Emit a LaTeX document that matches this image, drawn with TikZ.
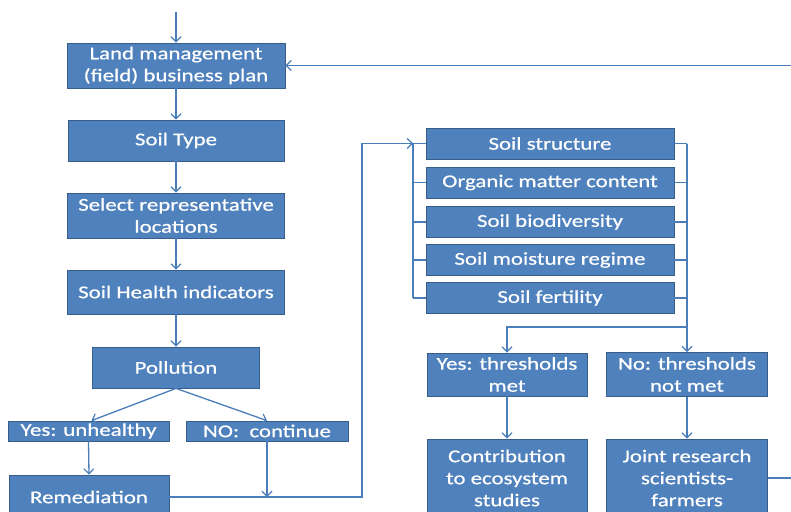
\documentclass[tikz,border=0pt]{standalone}
\usepackage{fontspec}
\setmainfont[FakeStretch=1.27,FakeBold=0.6]{Carlito}
\usetikzlibrary{arrows.meta}
\definecolor{boxfill}{HTML}{4F81BD}
\definecolor{boxline}{HTML}{385D8A}
\definecolor{conn}{HTML}{4A7EBB}
\tikzset{
  box/.style={draw=boxline, line width=0.8pt, fill=boxfill, text=white, align=center,
    inner sep=1pt, font=\fontsize{18}{22}\selectfont},
  conline/.style={draw=conn, line width=1.3pt},
  arr/.style={conline, -{Straight Barb[length=5pt,width=10pt,line width=1.2pt]}},
}
\begin{document}
\begin{tikzpicture}[x=1pt,y=-1pt]
\clip (0,0) rectangle (791,511);
% left column
\node[box, minimum width=218, minimum height=45] (land) at (176,65.5) {Land management\\(field) business plan};
\node[box, minimum width=216, minimum height=41] (soiltype) at (176,140.5) {Soil Type};
\node[box, minimum width=217, minimum height=45] (select) at (176,215.5) {Select representative\\locations};
\node[box, minimum width=217, minimum height=44] (health) at (176,292) {Soil Health indicators};
\node[box, minimum width=167, minimum height=41] (pollution) at (176,367.5) {Pollution};
\node[box, minimum width=161, minimum height=20] (yes) at (88.5,431) {Yes: unhealthy};
\node[box, minimum width=162, minimum height=20] (no) at (267,431) {NO:\ \ continue};
\node[box, minimum width=160, minimum height=44] (remed) at (89,497) {Remediation};
% right column
\node[box, minimum width=248, minimum height=31] (structure) at (550,143.5) {Soil structure};
\node[box, minimum width=248, minimum height=31] (organic) at (550,182.5) {Organic matter content};
\node[box, minimum width=248, minimum height=31] (biodiv) at (550,222) {Soil biodiversity};
\node[box, minimum width=248, minimum height=31] (moisture) at (550,260) {Soil moisture regime};
\node[box, minimum width=248, minimum height=31] (fertility) at (550,298) {Soil fertility};
\node[box, minimum width=160, minimum height=43] (ythr) at (507,374.5) {Yes: thresholds\\met};
\node[box, minimum width=161, minimum height=44] (nthr) at (687,374.5) {No: thresholds\\not met};
\node[box, minimum width=160, minimum height=78] (contrib) at (507,478) {Contribution\\to ecosystem\\studies};
\node[box, minimum width=161, minimum height=78] (joint) at (687,478) {Joint research\\scientists-\\farmers};
% coordinates
\coordinate (top) at (176,12);
\coordinate (lp) at (362,497);
\coordinate (lb) at (413,143.5);
\coordinate (lbb) at (413,298);
\coordinate (rb) at (687,143.5);
\coordinate (br) at (687,327);
\coordinate (fb) at (840,478);
% connectors left
\draw[arr] (top) -- (land.north);
\draw[arr] (land.south) -- (soiltype.north);
\draw[arr] (soiltype.south) -- (select.north);
\draw[arr] (select.south) -- (health.north);
\draw[arr] (health.south) -- (pollution.north);
\draw[arr] (pollution.south) -- ([xshift=3pt]yes.north);
\draw[arr] (pollution.south) -- (no.north);
\draw[arr] (yes.south) -- (remed.north);
\draw[arr] (no.south) -- (no.south |- lp);
\draw[arr] (remed.east) -- (lp) |- (lb);
% left bracket
\draw[conline] (lb) -- (lbb);
\foreach \n in {structure,organic,biodiv,moisture,fertility}
  \draw[conline] (\n.west) -- (\n.west -| lb);
% right bracket
\foreach \n in {structure,organic,biodiv,moisture,fertility}
  \draw[conline] (\n.east) -- (\n.east -| rb);
\draw[arr] (rb) -- (nthr.north);
\draw[arr] (br) -| (ythr.north);
\draw[arr] (ythr.south) -- (contrib.north);
\draw[arr] (nthr.south) -- (joint.north);
% feedback loop
\draw[arr] (joint.east) -- (fb) |- (land.east);
\end{tikzpicture}
\end{document}
